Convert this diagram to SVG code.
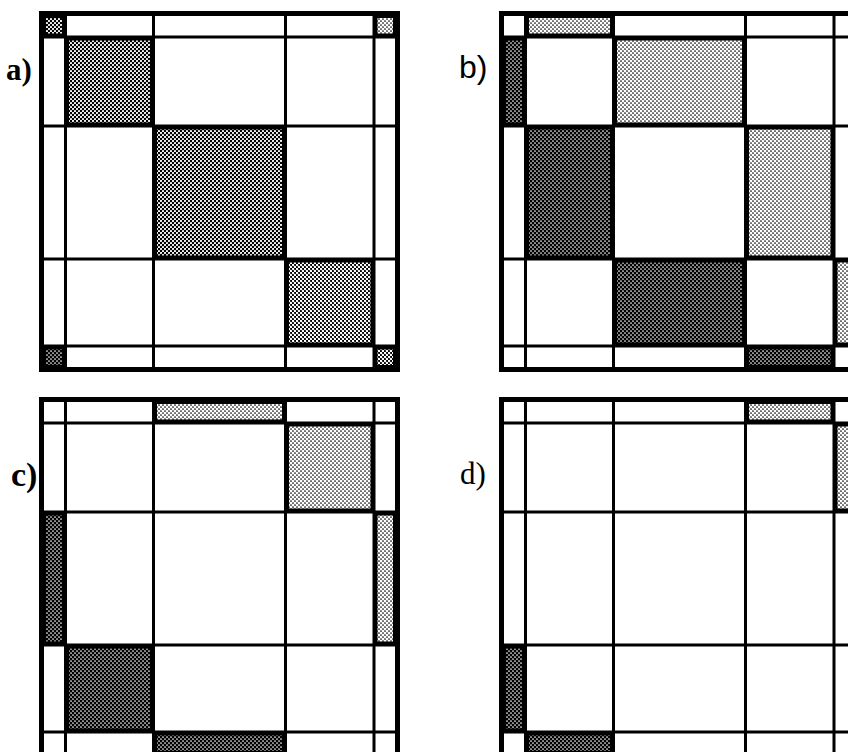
<svg xmlns="http://www.w3.org/2000/svg" xmlns:xlink="http://www.w3.org/1999/xlink" width="848" height="752" viewBox="0 0 848 752">
<style>
.frame{fill:none;stroke:#000;stroke-width:5}
.ln{stroke:#000;stroke-width:3}
.blk{fill:#000}
.dk{fill:url(#pdk)}
.md{fill:url(#pmd)}
.ml{fill:url(#pml)}
.lt{fill:url(#plt)}
.lab{fill:#000}
</style>
<defs>
<pattern id="pdk" width="4" height="4" patternUnits="userSpaceOnUse"><rect width="4" height="4" fill="#000"/><circle cx="1" cy="1" r="0.85" fill="#fff"/><circle cx="3" cy="3" r="0.85" fill="#fff"/></pattern>
<pattern id="pmd" width="4" height="4" patternUnits="userSpaceOnUse"><rect width="4" height="4" fill="#000"/><circle cx="1" cy="1" r="1.1" fill="#fff"/><circle cx="3" cy="3" r="1.1" fill="#fff"/></pattern>
<pattern id="pml" width="4" height="4" patternUnits="userSpaceOnUse"><rect width="4" height="4" fill="#000"/><circle cx="1" cy="1" r="1.25" fill="#fff"/><circle cx="3" cy="3" r="1.25" fill="#fff"/></pattern>
<pattern id="plt" width="4" height="4" patternUnits="userSpaceOnUse"><rect width="4" height="4" fill="#fff"/><circle cx="1" cy="1" r="0.85" fill="#000"/><circle cx="3" cy="3" r="0.85" fill="#000"/></pattern>
<g id="grid">
<rect x="41.5" y="13.5" width="356" height="356" fill="#fff"/>
<line class="ln" x1="65.5" y1="13.5" x2="65.5" y2="369.5"/>
<line class="ln" x1="153.5" y1="13.5" x2="153.5" y2="369.5"/>
<line class="ln" x1="285.5" y1="13.5" x2="285.5" y2="369.5"/>
<line class="ln" x1="374" y1="13.5" x2="374" y2="369.5"/>
<line class="ln" x1="41.5" y1="37" x2="397.5" y2="37"/>
<line class="ln" x1="41.5" y1="126" x2="397.5" y2="126"/>
<line class="ln" x1="41.5" y1="259" x2="397.5" y2="259"/>
<line class="ln" x1="41.5" y1="346" x2="397.5" y2="346"/>
<rect class="frame" x="41.5" y="13.5" width="356" height="356"/>
</g>
</defs>
<rect width="848" height="752" fill="#fff"/>

<g id="panel-a">
<use xlink:href="#grid" href="#grid"/>
<g id="a-cells">
<rect class="blk" x="41.5" y="13.5" width="24" height="23.5"/><rect class="md" x="46" y="18" width="16" height="15.5"/>
<rect class="blk" x="374" y="13.5" width="23.5" height="23.5"/><rect class="lt" x="377.5" y="18" width="15.5" height="15.5"/>
<rect class="blk" x="41.5" y="346" width="24" height="23.5"/><rect class="dk" x="46" y="349.5" width="16" height="15.5"/>
<rect class="blk" x="374" y="346" width="23.5" height="23.5"/><rect class="ml" x="377.5" y="349.5" width="15.5" height="15.5"/>
<rect class="blk" x="65.5" y="37" width="88" height="89"/><rect class="md" x="69" y="40.5" width="81" height="82"/>
<rect class="blk" x="153.5" y="126" width="132" height="133"/><rect class="md" x="157" y="129.5" width="125" height="126"/>
<rect class="blk" x="285.5" y="259" width="88.5" height="87"/><rect class="ml" x="289" y="262.5" width="81.5" height="80"/>
</g>
<text class="lab" x="6" y="80" font-family="'Liberation Serif', serif" font-weight="bold" font-size="31">a)</text>
</g>

<g id="panel-b">
<g transform="translate(460,0)">
<use xlink:href="#grid" href="#grid"/>
<g id="b-cells">
<rect class="blk" x="65.5" y="13.5" width="88" height="23.5"/><rect class="lt" x="69" y="18" width="81" height="15.5"/>
<rect class="blk" x="41.5" y="37" width="24" height="89"/><rect class="dk" x="46" y="40.5" width="16" height="82"/>
<rect class="blk" x="153.5" y="37" width="132" height="89"/><rect class="lt" x="157" y="40.5" width="125" height="82"/>
<rect class="blk" x="65.5" y="126" width="88" height="133"/><rect class="dk" x="69" y="129.5" width="81" height="126"/>
<rect class="blk" x="285.5" y="126" width="88.5" height="133"/><rect class="lt" x="289" y="129.5" width="81.5" height="126"/>
<rect class="blk" x="153.5" y="259" width="132" height="87"/><rect class="dk" x="157" y="262.5" width="125" height="80"/>
<rect class="blk" x="374" y="259" width="23.5" height="87"/><rect class="lt" x="377.5" y="262.5" width="15.5" height="80"/>
<rect class="blk" x="285.5" y="346" width="88.5" height="23.5"/><rect class="dk" x="289" y="349.5" width="81.5" height="15.5"/>
</g>
</g>
<text class="lab" x="459" y="78" font-family="'Liberation Sans', sans-serif" font-size="32">b)</text>
</g>

<g id="panel-c">
<g transform="translate(0,386)">
<use xlink:href="#grid" href="#grid"/>
<g id="c-cells">
<rect class="blk" x="153.5" y="13.5" width="132" height="23.5"/><rect class="lt" x="157" y="18" width="125" height="15.5"/>
<rect class="blk" x="285.5" y="37" width="88.5" height="89"/><rect class="lt" x="289" y="40.5" width="81.5" height="82"/>
<rect class="blk" x="41.5" y="126" width="24" height="133"/><rect class="dk" x="46" y="129.5" width="16" height="126"/>
<rect class="blk" x="374" y="126" width="23.5" height="133"/><rect class="lt" x="377.5" y="129.5" width="15.5" height="126"/>
<rect class="blk" x="65.5" y="259" width="88" height="87"/><rect class="dk" x="69" y="262.5" width="81" height="80"/>
<rect class="blk" x="153.5" y="346" width="132" height="23.5"/><rect class="dk" x="157" y="349.5" width="125" height="15.5"/>
</g>
</g>
<text class="lab" x="11" y="486" font-family="'Liberation Serif', serif" font-weight="bold" font-size="34">c)</text>
</g>

<g id="panel-d">
<g transform="translate(460,386)">
<use xlink:href="#grid" href="#grid"/>
<g id="d-cells">
<rect class="blk" x="285.5" y="13.5" width="88.5" height="23.5"/><rect class="lt" x="289" y="18" width="81.5" height="15.5"/>
<rect class="blk" x="374" y="37" width="23.5" height="89"/><rect class="lt" x="377.5" y="40.5" width="15.5" height="82"/>
<rect class="blk" x="41.5" y="259" width="24" height="87"/><rect class="dk" x="46" y="262.5" width="16" height="80"/>
<rect class="blk" x="65.5" y="346" width="88" height="23.5"/><rect class="dk" x="69" y="349.5" width="81" height="15.5"/>
</g>
</g>
<text class="lab" x="460" y="484" font-family="'Liberation Serif', serif" font-size="31">d)</text>
</g>
</svg>
